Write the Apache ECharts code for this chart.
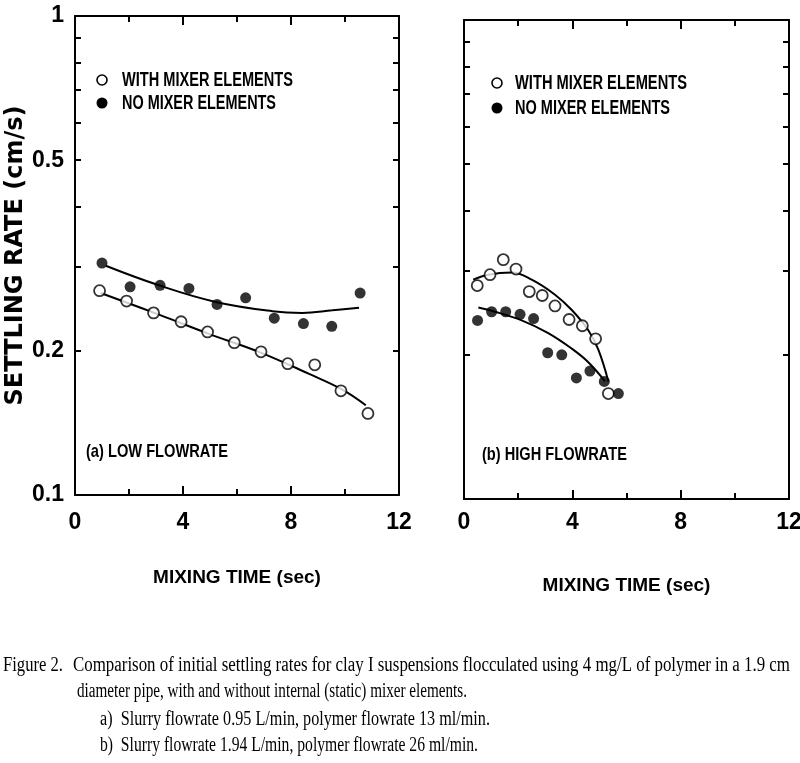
<!DOCTYPE html>
<html>
<head>
<meta charset="utf-8">
<script src="https://cdn.jsdelivr.net/npm/echarts@6/dist/echarts.min.js"></script>
<style>html,body{margin:0;padding:0;background:#fff}#c{width:800px;height:763px}</style>
</head>
<body>
<div id="c"></div>
<script>
// ---- data ----
const xAxisLabels = [0, 4, 8, 12];
const yAxisLabels = [0.1, 0.2, 0.5, 1];
const yMinorTicks = [0.2, 0.3, 0.4, 0.5, 0.6, 0.7, 0.8, 0.9];

const lowWithX = [0.91, 1.91, 2.91, 3.93, 4.91, 5.90, 6.89, 7.88, 8.88, 9.85, 10.85];
const lowWithY = [0.267, 0.254, 0.240, 0.230, 0.219, 0.208, 0.199, 0.188, 0.187, 0.165, 0.148];
const lowNoX = [1.00, 2.04, 3.15, 4.22, 5.26, 6.32, 7.38, 8.46, 9.51, 10.56];
const lowNoY = [0.305, 0.272, 0.274, 0.270, 0.250, 0.258, 0.234, 0.228, 0.225, 0.264];
const lowWithFitX = [0.95, 3.11, 4.96, 6.81, 8.67, 9.90, 10.77];
const lowWithFitY = [0.264, 0.238, 0.217, 0.199, 0.179, 0.166, 0.154];
const lowNoFitX = [1.14, 3.11, 5.21, 7.31, 8.42, 9.53, 10.52];
const lowNoFitY = [0.301, 0.274, 0.253, 0.242, 0.240, 0.243, 0.246];

const highWithX = [0.49, 0.96, 1.45, 1.92, 2.41, 2.89, 3.36, 3.88, 4.37, 4.86, 5.33];
const highWithY = [0.279, 0.294, 0.316, 0.302, 0.271, 0.266, 0.253, 0.237, 0.230, 0.216, 0.166];
const highNoX = [0.50, 1.02, 1.54, 2.07, 2.57, 3.09, 3.61, 4.15, 4.65, 5.18, 5.70];
const highNoY = [0.236, 0.246, 0.246, 0.243, 0.238, 0.202, 0.200, 0.179, 0.185, 0.176, 0.166];
const highWithFitX = [0.34, 0.90, 1.76, 2.50, 3.36, 3.98, 4.59, 4.96, 5.33];
const highWithFitY = [0.287, 0.294, 0.297, 0.287, 0.267, 0.248, 0.225, 0.205, 0.176];
const highNoFitX = [0.53, 1.14, 2.13, 3.11, 3.98, 4.59, 5.21];
const highNoFitY = [0.251, 0.246, 0.236, 0.222, 0.206, 0.193, 0.176];

const nameWith = 'WITH MIXER ELEMENTS';
const nameNo = 'NO MIXER ELEMENTS';
const yTitle = 'SETTLING RATE (cm/s)';
const xTitle = 'MIXING TIME (sec)';
const panelLabels = ['(a) LOW FLOWRATE', '(b) HIGH FLOWRATE'];
const captionHead = 'Figure 2.';
const captionLines = [
  'Comparison of initial settling rates for clay I suspensions flocculated using 4 mg/L of polymer in a 1.9 cm',
  'diameter pipe, with and without internal (static) mixer elements.',
  'a)  Slurry flowrate 0.95 L/min, polymer flowrate 13 ml/min.',
  'b)  Slurry flowrate 1.94 L/min, polymer flowrate 26 ml/min.'
];

// ---- styling / layout ----
const SANS = '"Liberation Sans", Arial, sans-serif';
const SERIF = '"Liberation Serif", "Times New Roman", serif';
const zip = (xs, ys) => xs.map((x, i) => [x, ys[i]]);

function fitScale(text, font, target) {
  const ctx = document.createElement('canvas').getContext('2d');
  ctx.font = font;
  return target / ctx.measureText(text).width;
}
function fittedText(text, x, y, font, width) {
  return { type: 'text', x: x, y: y, scaleX: fitScale(text, font, width),
    style: { text: text, font: font, fill: '#000', verticalAlign: 'middle' } };
}

const grids = [
  { left: 75, top: 16, width: 324, height: 479, outerBoundsMode: 'none', containLabel: false },
  { left: 464, top: 20, width: 325, height: 479, outerBoundsMode: 'none', containLabel: false }
];

function xAxes(gi, labelMargin, nameGap) {
  const base = {
    type: 'value', gridIndex: gi, min: 0, max: 12, interval: 4,
    axisLine: { show: true, onZero: false, lineStyle: { color: '#000', width: 2 } },
    axisTick: { show: true, inside: true, length: 9, lineStyle: { color: '#000', width: 2 } },
    minorTick: { show: true, splitNumber: 2, length: 6, lineStyle: { color: '#000', width: 2 } },
    splitLine: { show: false }, minorSplitLine: { show: false }
  };
  return [
    Object.assign({}, base, {
      position: 'bottom',
      axisLabel: { show: true, margin: labelMargin, color: '#000', fontSize: 23, fontWeight: 'bold', fontFamily: SANS,
        customValues: xAxisLabels },
      name: xTitle, nameLocation: 'middle', nameGap: nameGap,
      nameTextStyle: { color: '#000', fontSize: 19, fontWeight: 'bold', fontFamily: SANS }
    }),
    Object.assign({}, base, { position: 'top', axisLabel: { show: false } })
  ];
}

function yAxes(gi, withLabels) {
  const base = {
    type: 'log', logBase: 10, gridIndex: gi, min: 0.1, max: 1,
    axisLine: { show: true, onZero: false, lineStyle: { color: '#000', width: 2 } },
    axisTick: { show: true, inside: true, length: 6, customValues: yMinorTicks, lineStyle: { color: '#000', width: 2 } },
    splitLine: { show: false }
  };
  const left = Object.assign({}, base, {
    position: 'left',
    axisLabel: withLabels ? { show: true, margin: 11, color: '#000', fontSize: 23, fontWeight: 'bold', fontFamily: SANS,
      customValues: yAxisLabels, formatter: v => String(+v.toPrecision(3)) } : { show: false }
  });
  if (withLabels) {
    Object.assign(left, {
      name: yTitle, nameLocation: 'middle', nameGap: 46, nameRotate: 90,
      nameTextStyle: { color: '#000', fontSize: 24, fontWeight: 'bold', fontFamily: '"DejaVu Sans", sans-serif' }
    });
  }
  return [left, Object.assign({}, base, { position: 'right', axisLabel: { show: false } })];
}

function scatter(name, xi, yi, xs, ys, open) {
  return {
    name, type: 'scatter', xAxisIndex: xi, yAxisIndex: yi, data: zip(xs, ys),
    symbol: 'circle', symbolSize: 11,
    itemStyle: open ? { color: '#fff', borderColor: '#000', borderWidth: 1.8 } : { color: '#000', borderColor: '#000', borderWidth: 0 },
    z: 3
  };
}
function fit(xi, yi, xs, ys) {
  return {
    name: 'fit', type: 'line', xAxisIndex: xi, yAxisIndex: yi, data: zip(xs, ys),
    showSymbol: false, smooth: 0.4, lineStyle: { color: '#000', width: 2 }, silent: true, z: 2
  };
}

function legendGroup(cx, y1, y2, textX, w1, w2) {
  const f = 'bold 21px ' + SANS;
  return [
    { type: 'circle', shape: { cx: cx, cy: y1, r: 5 }, style: { fill: '#fff', stroke: '#000', lineWidth: 1.6 } },
    { type: 'circle', shape: { cx: cx, cy: y2, r: 5.5 }, style: { fill: '#000' } },
    fittedText(nameWith, textX, y1, f, w1),
    fittedText(nameNo, textX, y2, f, w2)
  ];
}

const captionFont = '20px ' + SERIF;
const captionTargets = [
  { x: 73, y: 666, w: 717 },
  { x: 77, y: 692, w: 390 },
  { x: 100, y: 720, w: 390 },
  { x: 100, y: 746, w: 378 }
];
const graphics = [fittedText(captionHead, 3, 666, captionFont, 60)]
  .concat(captionLines.map((t, i) => fittedText(t, captionTargets[i].x, captionTargets[i].y, captionFont, captionTargets[i].w)))
  .concat([
    fittedText(panelLabels[0], 86, 452, 'bold 19px ' + SANS, 142),
    fittedText(panelLabels[1], 482, 455, 'bold 19px ' + SANS, 145)
  ])
  .concat(legendGroup(102, 80, 103, 122, 171, 154))
  .concat(legendGroup(497, 83, 108, 515, 172, 155));

const option = {
  animation: false,
  backgroundColor: '#fff',
  grid: grids,
  xAxis: xAxes(0, 16, 73).concat(xAxes(1, 12, 77)),
  yAxis: yAxes(0, true).concat(yAxes(1, false)),
  series: [
    fit(0, 0, lowWithFitX, lowWithFitY),
    fit(0, 0, lowNoFitX, lowNoFitY),
    scatter(nameWith, 0, 0, lowWithX, lowWithY, true),
    scatter(nameNo, 0, 0, lowNoX, lowNoY, false),
    fit(2, 2, highWithFitX, highWithFitY),
    fit(2, 2, highNoFitX, highNoFitY),
    scatter(nameWith, 2, 2, highWithX, highWithY, true),
    scatter(nameNo, 2, 2, highNoX, highNoY, false)
  ],
  graphic: graphics
};

const chart = echarts.init(document.getElementById('c'), null, { renderer: 'canvas' });
chart.setOption(option);
</script>
</body>
</html>
